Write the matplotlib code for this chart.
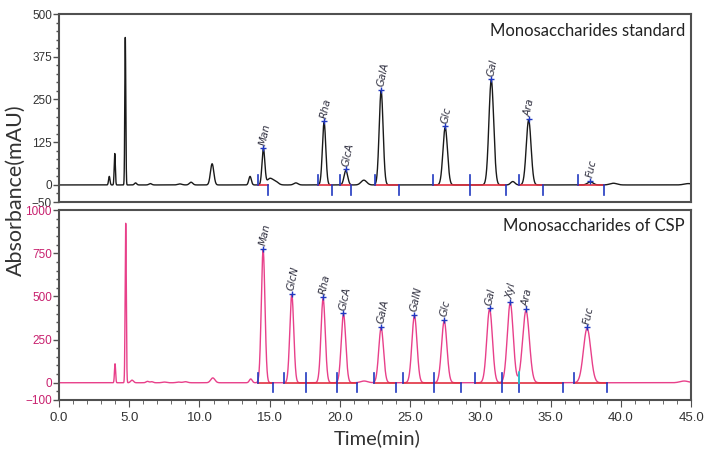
import numpy as np
import matplotlib
matplotlib.use("Agg")
import matplotlib.pyplot as plt
from matplotlib.ticker import MultipleLocator

# peak table: time (min), height (mAU), width (min)
std_times = [3.58, 3.97, 4.72, 5.45, 6.5, 8.6, 9.4, 10.9, 13.6, 14.55, 15.0, 15.4, 16.86,
             18.87, 20.42, 21.7, 22.93, 27.49, 30.77, 32.3, 33.43, 37.82, 39.46, 44.8]
std_heights = [25, 92, 432, 6, 4, 3, 8, 62, 25, 105, 18, 10, 6,
               183, 42, 14, 275, 168, 307, 10, 190, 9, 5, 4]
std_widths = [0.05, 0.04, 0.035, 0.08, 0.1, 0.15, 0.12, 0.12, 0.09, 0.1, 0.2, 0.2, 0.15,
              0.12, 0.13, 0.2, 0.14, 0.16, 0.17, 0.15, 0.17, 0.2, 0.25, 0.3]
std_names = ["Man", "Rha", "GlcA", "GalA", "Glc", "Gal", "Ara", "Fuc"]
std_name_times = [14.55, 18.87, 20.42, 22.93, 27.49, 30.77, 33.43, 37.82]
std_name_heights = [105, 183, 42, 275, 168, 307, 190, 9]
std_segments = [(14.2, 14.86), (18.42, 19.46), (19.99, 20.8), (22.46, 24.19), (26.6, 29.27),
                (29.27, 31.84), (32.71, 34.45), (36.92, 38.82)]

# peak table for the CSP sample
csp_times = [3.99, 4.75, 5.2, 6.3, 6.6, 7.5, 8.5, 9.0, 10.95, 13.65, 14.53, 16.57, 18.8,
             20.25, 21.72, 22.93, 25.3, 27.42, 30.65, 32.12, 33.24, 37.59, 44.5]
csp_heights = [110, 925, 15, 8, 6, 4, 4, 6, 28, 22, 770, 510, 488,
               398, 10, 318, 388, 358, 427, 462, 418, 315, 10]
csp_widths = [0.04, 0.04, 0.1, 0.1, 0.1, 0.15, 0.15, 0.15, 0.15, 0.1, 0.13, 0.14, 0.15,
              0.16, 0.25, 0.17, 0.18, 0.19, 0.2, 0.21, 0.24, 0.26, 0.3]
csp_names = ["Man", "GlcN", "Rha", "GlcA", "GalA", "GalN", "Glc", "Gal", "Xyl", "Ara", "Fuc"]
csp_name_times = [14.53, 16.57, 18.8, 20.25, 22.93, 25.3, 27.42, 30.65, 32.12, 33.24, 37.59]
csp_name_heights = [770, 510, 488, 398, 318, 388, 358, 427, 462, 418, 315]
csp_segments = [(14.2, 15.26), (16.03, 17.59), (17.59, 19.78), (19.78, 21.2), (22.39, 24.0),
                (24.52, 26.71), (26.71, 28.61), (29.63, 31.5), (31.5, 32.74), (32.74, 35.87),
                (36.68, 39.0)]

t = np.linspace(0, 45, 6000)


def trace(times, heights, widths):
    y = np.zeros_like(t)
    for c, h, w in zip(times, heights, widths):
        y += h * np.exp(-0.5 * ((t - c) / w) ** 2)
    return y


def mark_peaks(ax, segs, names, ntimes, nheights, tick, lab_off):
    for a, b in segs:
        ax.plot([a, b], [0, 0], color="#e03040", lw=1.2, zorder=3)
    starts = [s[0] for s in segs]
    ends = [s[1] for s in segs]
    for x in sorted(set(starts + ends)):
        lo = -tick if x in ends else 0
        hi = tick if x in starts else 0
        ax.plot([x, x], [lo, hi], color="#2038c0", lw=1.2, zorder=4)
    for n, x, h in zip(names, ntimes, nheights):
        ax.plot(x, h + lab_off * 0.3, marker="+", color="#2038c0", ms=5, mew=1, zorder=4)
        ax.text(x - 0.05, h + lab_off, n, rotation=78, rotation_mode="anchor",
                ha="left", va="center", fontsize=7.5, style="italic", color="#303040")


tick_font = ["Liberation Sans Narrow", "Liberation Sans", "DejaVu Sans"]

fig = plt.figure(figsize=(7.08, 4.53), dpi=100)
ax1 = fig.add_axes([0.0833, 0.554, 0.893, 0.415])
ax2 = fig.add_axes([0.0833, 0.117, 0.893, 0.419])

ax1.plot(t, trace(std_times, std_heights, std_widths), color="#1a1a1a", lw=1)
mark_peaks(ax1, std_segments, std_names, std_name_times, std_name_heights, 28, 12)
ax2.plot(t, trace(csp_times, csp_heights, csp_widths), color="#e8408a", lw=1)
mark_peaks(ax2, csp_segments, csp_names, csp_name_times, csp_name_heights, 55, 24)
ax2.plot([32.74, 32.74], [0, 60], color="#30d0d0", lw=1.2, zorder=4)

ax1.set_ylim(-50, 500)
ax1.set_yticks([-50, 0, 125, 250, 375, 500])
ax1.yaxis.set_minor_locator(MultipleLocator(25))
ax2.set_ylim(-100, 1000)
ax2.set_yticks([-100, 0, 250, 500, 750, 1000])
ax2.yaxis.set_minor_locator(MultipleLocator(50))

for ax in (ax1, ax2):
    ax.set_xlim(0, 45)
    for s in ax.spines.values():
        s.set_color("#505050")
        s.set_linewidth(1.5)
    ax.tick_params(axis="y", which="both", direction="out", color="#505050", width=1)
    ax.tick_params(axis="y", which="major", length=4, pad=1)
    ax.tick_params(axis="y", which="minor", length=2)

ax1.set_xticks([])
ax1.tick_params(axis="x", which="both", bottom=False, labelbottom=False)
ax2.set_xticks(np.arange(0, 46, 5))
ax2.set_xticklabels(["%.1f" % v for v in np.arange(0, 46, 5)])
ax2.xaxis.set_minor_locator(MultipleLocator(1))
ax2.tick_params(axis="x", which="major", direction="out", length=5, color="#505050", pad=4)
ax2.tick_params(axis="x", which="minor", direction="out", length=3, color="#505050")

for lab in ax1.get_yticklabels():
    lab.set_family(tick_font)
    lab.set_fontsize(8.5)
    lab.set_color("#333333")
for lab in ax2.get_yticklabels():
    lab.set_family(tick_font)
    lab.set_fontsize(8.5)
    lab.set_color("#c8206e")
for lab in ax2.get_xticklabels():
    lab.set_family(tick_font)
    lab.set_fontsize(9.5)
    lab.set_color("#333333")

ax1.text(0.99, 0.95, "Monosaccharides standard", transform=ax1.transAxes, ha="right", va="top",
         fontsize=12, family="Lato", color="#222222")
ax2.text(0.99, 0.96, "Monosaccharides of CSP", transform=ax2.transAxes, ha="right", va="top",
         fontsize=12, family="Lato", color="#222222")

fig.text(0.022, 0.58, "Absorbance(mAU)", rotation=90, ha="center", va="center",
         fontsize=15.5, family="Lato", color="#333333")
fig.text(0.533, 0.033, "Time(min)", ha="center", va="center",
         fontsize=14.5, family="Lato", color="#333333")

fig.savefig("out.png", dpi=100)
